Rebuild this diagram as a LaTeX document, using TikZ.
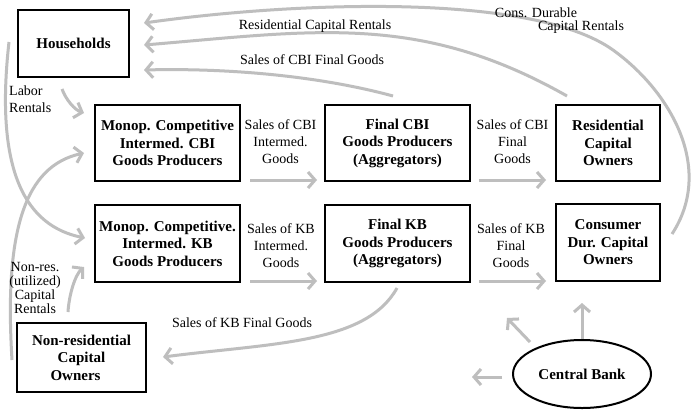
\documentclass[tikz,border=0pt]{standalone}
\usepackage{fontspec}
\setmainfont{Liberation Serif}
\usetikzlibrary{arrows.meta,shapes.geometric,calc}
\definecolor{arrowgray}{RGB}{190,190,190}
\begin{document}
\begin{tikzpicture}[x=1pt,y=-1pt,
  box/.style={draw=black,line width=2pt,inner sep=0pt,align=center,
    font=\bfseries\fontsize{15}{17.5}\selectfont},
  flow/.style={draw=arrowgray,line width=3pt,-{Straight Barb[length=7pt,width=16pt]}},
  lab/.style={inner sep=0pt,align=center,font=\fontsize{14}{17}\selectfont}]
\useasboundingbox[fill=white] (0,0) rectangle (695,410);
% boxes
\node[box,minimum width=111pt,minimum height=67pt] (hh) at (73.5,43.5) {Households};
\node[box,minimum width=145pt,minimum height=76pt] (mcbi) at (167.5,143) {Monop. Competitive\\Intermed. CBI\\Goods Producers};
\node[box,minimum width=145pt,minimum height=76pt] (fcbi) at (397.5,143) {Final CBI\\Goods Producers\\(Aggregators)};
\node[box,minimum width=104pt,minimum height=76pt] (rco) at (608,143) {Residential\\Capital\\Owners};
\node[box,minimum width=145pt,minimum height=77pt] (mkb) at (167.5,243.5) {Monop. Competitive.\\Intermed. KB\\Goods Producers};
\node[box,minimum width=145pt,minimum height=77pt] (fkb) at (397.5,243.5) {Final KB\\Goods Producers\\(Aggregators)};
\node[box,minimum width=104pt,minimum height=77pt] (cdo) at (608,242.5) {Consumer\\Dur. Capital\\Owners};
\node[box,minimum width=129pt,minimum height=69pt] (nro) at (81.5,357.5) {Non-residential\\Capital\hspace*{14pt}\\Owners\hspace*{12pt}};
\node[box,ellipse,minimum width=138pt,minimum height=68pt] (cb) at (582,374) {Central Bank};
% free ends
\coordinate (cbup) at (582,303);
\coordinate (cbdiag) at (507,318);
\coordinate (cbleft) at (472,377);
% curved flows to households
\draw[flow] ($(cdo.east)+(11,-8.5)$) .. controls (715,168) and (670,91) .. (613,50)
  .. controls (532,-8) and (293,2) .. ($(hh.east)+(14,-20.5)$);
\draw[flow] ($(rco.north)+(-41,-8)$) .. controls (419,12) and (313,31) .. ($(hh.east)+(14,1.5)$);
\draw[flow] ($(fcbi.north)+(-4.5,-8)$) .. controls (316,75) and (223,68) .. ($(hh.east)+(14,26.5)$);
% left side flows
\draw[flow] ($(hh.south)+(-11.5,11)$) .. controls (66,100) and (75,110) .. ($(mcbi.west)+(-10,-30)$);
\draw[flow] ($(hh.west)+(-8,-1.5)$) .. controls (-5.6,172) and (26,226) .. ($(mkb.west)+(-9,-5.5)$);
\draw[flow] ($(nro.west)+(-4,2.5)$) .. controls (4,230) and (25,166) .. ($(mcbi.west)+(-10,10)$);
\draw[flow] ($(nro.north)+(-13.5,-10)$) .. controls (69,295) and (75,275) .. ($(mkb.west)+(-10,23.5)$);
% straight flows
\draw[flow] ($(mcbi.south east)+(9,-2)$) -- ($(fcbi.south west)+(-7,-2)$);
\draw[flow] ($(fcbi.south east)+(8,-2)$) -- ($(rco.south west)+(-9,-2)$);
\draw[flow] ($(mkb.south east)+(9,-2)$) -- ($(fkb.south west)+(-7,-2)$);
\draw[flow] ($(fkb.south east)+(8,-2)$) -- ($(cdo.south west)+(-9,-1)$);
% sales of KB final goods
\draw[flow] ($(fkb.south)+(-0.5,5)$) .. controls (366,344) and (272,343) .. ($(nro.east)+(16,-0.5)$);
% central bank
\draw[flow] (cb.north) -- (cbup);
\draw[flow] ($(cb.west)+(18,-32)$) -- (cbdiag);
\draw[flow] ($(cb.west)+(-10,3)$) -- (cbleft);
% labels
\node[lab] (l1) at (536,13) {Cons. Durable};
\node[lab] (l2) at (581,27) {Capital Rentals};
\node[lab] (l3) at (315,26) {Residential Capital Rentals};
\node[lab] (l4) at (312,60) {Sales of CBI Final Goods};
\node[lab,align=left,anchor=west] (l5) at (9,99.5) {Labor\\Rentals};
\node[lab] (l6) at (280.5,141.5) {Sales of CBI\\Intermed.\\Goods};
\node[lab] (l7) at (512.5,141.5) {Sales of CBI\\Final\\Goods};
\node[lab] (l8) at (281,245.5) {Sales of KB\\Intermed.\\Goods};
\node[lab] (l9) at (511,245.5) {Sales of KB\\Final\\Goods};
\node[lab,font=\fontsize{14}{14.2}\selectfont] (l10) at (35,288) {Non-res.\\(utilized)\\Capital\\Rentals};
\node[lab] (l11) at (242,323) {Sales of KB Final Goods};
\end{tikzpicture}
\end{document}
